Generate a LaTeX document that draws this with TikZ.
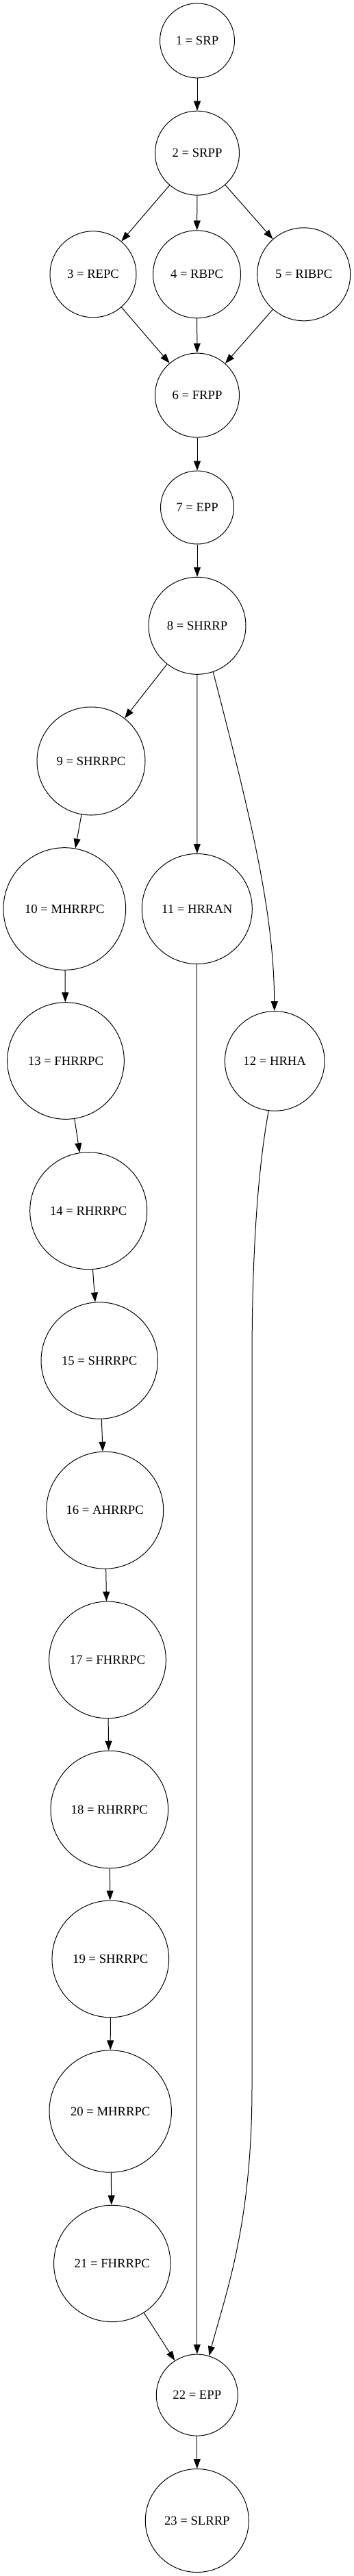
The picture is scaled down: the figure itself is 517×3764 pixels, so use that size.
\documentclass[tikz,border=0pt]{standalone}
\usepackage{fontspec}
\setmainfont{Liberation Serif}
\usetikzlibrary{arrows.meta}

\begin{document}
\begin{tikzpicture}[x=0.75pt, y=-0.75pt]
        \tikzstyle{stage}=[circle,draw,line width=0.75pt,inner sep=0pt,font=\fontsize{14pt}{16pt}\selectfont]
        \tikzstyle{edge}=[line width=0.75pt,-{Triangle[length=10.5pt,width=7.5pt]}]

        \useasboundingbox (0,0) rectangle (517,3764);

        \node[stage,minimum size=81.75pt] (S_1) at (288,59.4) {1 = SRP};
        \node[stage,minimum size=92.25pt] (S_2) at (288,223.7) {2 = SRPP};
        \node[stage,minimum size=94.5pt] (S_3) at (136,400.8) {3 = REPC};
        \node[stage,minimum size=96pt] (S_4) at (287.5,400.8) {4 = RBPC};
        \node[stage,minimum size=102pt] (S_5) at (443.7,400.8) {5 = RIBPC};
        \node[stage,minimum size=92.25pt] (S_6) at (288,577.6) {6 = FRPP};
        \node[stage,minimum size=80.25pt] (S_7) at (288,741.5) {7 = EPP};
        \node[stage,minimum size=106.5pt] (S_8) at (288,914.3) {8 = SHRRP};
        \node[stage,minimum size=118.5pt] (S_9) at (133,1112) {9 = SHRRPC};
        \node[stage,minimum size=134pt] (S_10) at (94.3,1328) {10 = MHRRPC};
        \node[stage,minimum size=120.75pt] (S_11) at (287.8,1328) {11 = HRRAN};
        \node[stage,minimum size=109.2pt] (S_12) at (401.2,1550.4) {12 = HRHA};
        \node[stage,minimum size=128pt] (S_13) at (96,1550) {13 = FHRRPC};
        \node[stage,minimum size=128.25pt] (S_14) at (129.2,1769.2) {14 = RHRRPC};
        \node[stage,minimum size=127.8pt] (S_15) at (145.2,1988) {15 = SHRRPC};
        \node[stage,minimum size=128.25pt] (S_16) at (153.2,2206.7) {16 = AHRRPC};
        \node[stage,minimum size=128pt] (S_17) at (157,2425.4) {17 = FHRRPC};
        \node[stage,minimum size=128.7pt] (S_18) at (159.8,2644) {18 = RHRRPC};
        \node[stage,minimum size=128pt] (S_19) at (161.3,2862.4) {19 = SHRRPC};
        \node[stage,minimum size=133.8pt] (S_20) at (161.2,3085) {20 = MHRRPC};
        \node[stage,minimum size=127.8pt] (S_21) at (163.8,3307.4) {21 = FHRRPC};
        \node[stage,minimum size=89.25pt] (S_22) at (287.8,3499.6) {22 = EPP};
        \node[stage,minimum size=113.25pt] (S_23) at (287.8,3683) {23 = SLRRP};

        \draw[edge] (S_1) -- (S_2);
        \draw[edge] (S_2) -- (S_3);
        \draw[edge] (S_2) -- (S_4);
        \draw[edge] (S_2) -- (S_5);
        \draw[edge] (S_3) -- (S_6);
        \draw[edge] (S_4) -- (S_6);
        \draw[edge] (S_5) -- (S_6);
        \draw[edge] (S_6) -- (S_7);
        \draw[edge] (S_7) -- (S_8);
        \draw[edge] (S_8) -- (S_9);
        \draw[edge] (S_8) -- (S_11);
        \draw[edge] (S_8.-71) .. controls (365,1190) and (400,1330) .. (S_12);
        \draw[edge] (S_9) -- (S_10);
        \draw[edge] (S_10) -- (S_13);
        \draw[edge] (S_13) -- (S_14);
        \draw[edge] (S_14) -- (S_15);
        \draw[edge] (S_15) -- (S_16);
        \draw[edge] (S_16) -- (S_17);
        \draw[edge] (S_17) -- (S_18);
        \draw[edge] (S_18) -- (S_19);
        \draw[edge] (S_19) -- (S_20);
        \draw[edge] (S_20) -- (S_21);
        \draw[edge] (S_21) -- (S_22);
        \draw[edge] (S_11) -- (S_22);
        \draw[edge] (S_12.-97) .. controls (380,1690) and (368,1800) .. (368,1990) -- (368,3050) .. controls (368,3250) and (330,3350) .. (S_22.73);
        \draw[edge] (S_22) -- (S_23);
    \end{tikzpicture}
\end{document}
